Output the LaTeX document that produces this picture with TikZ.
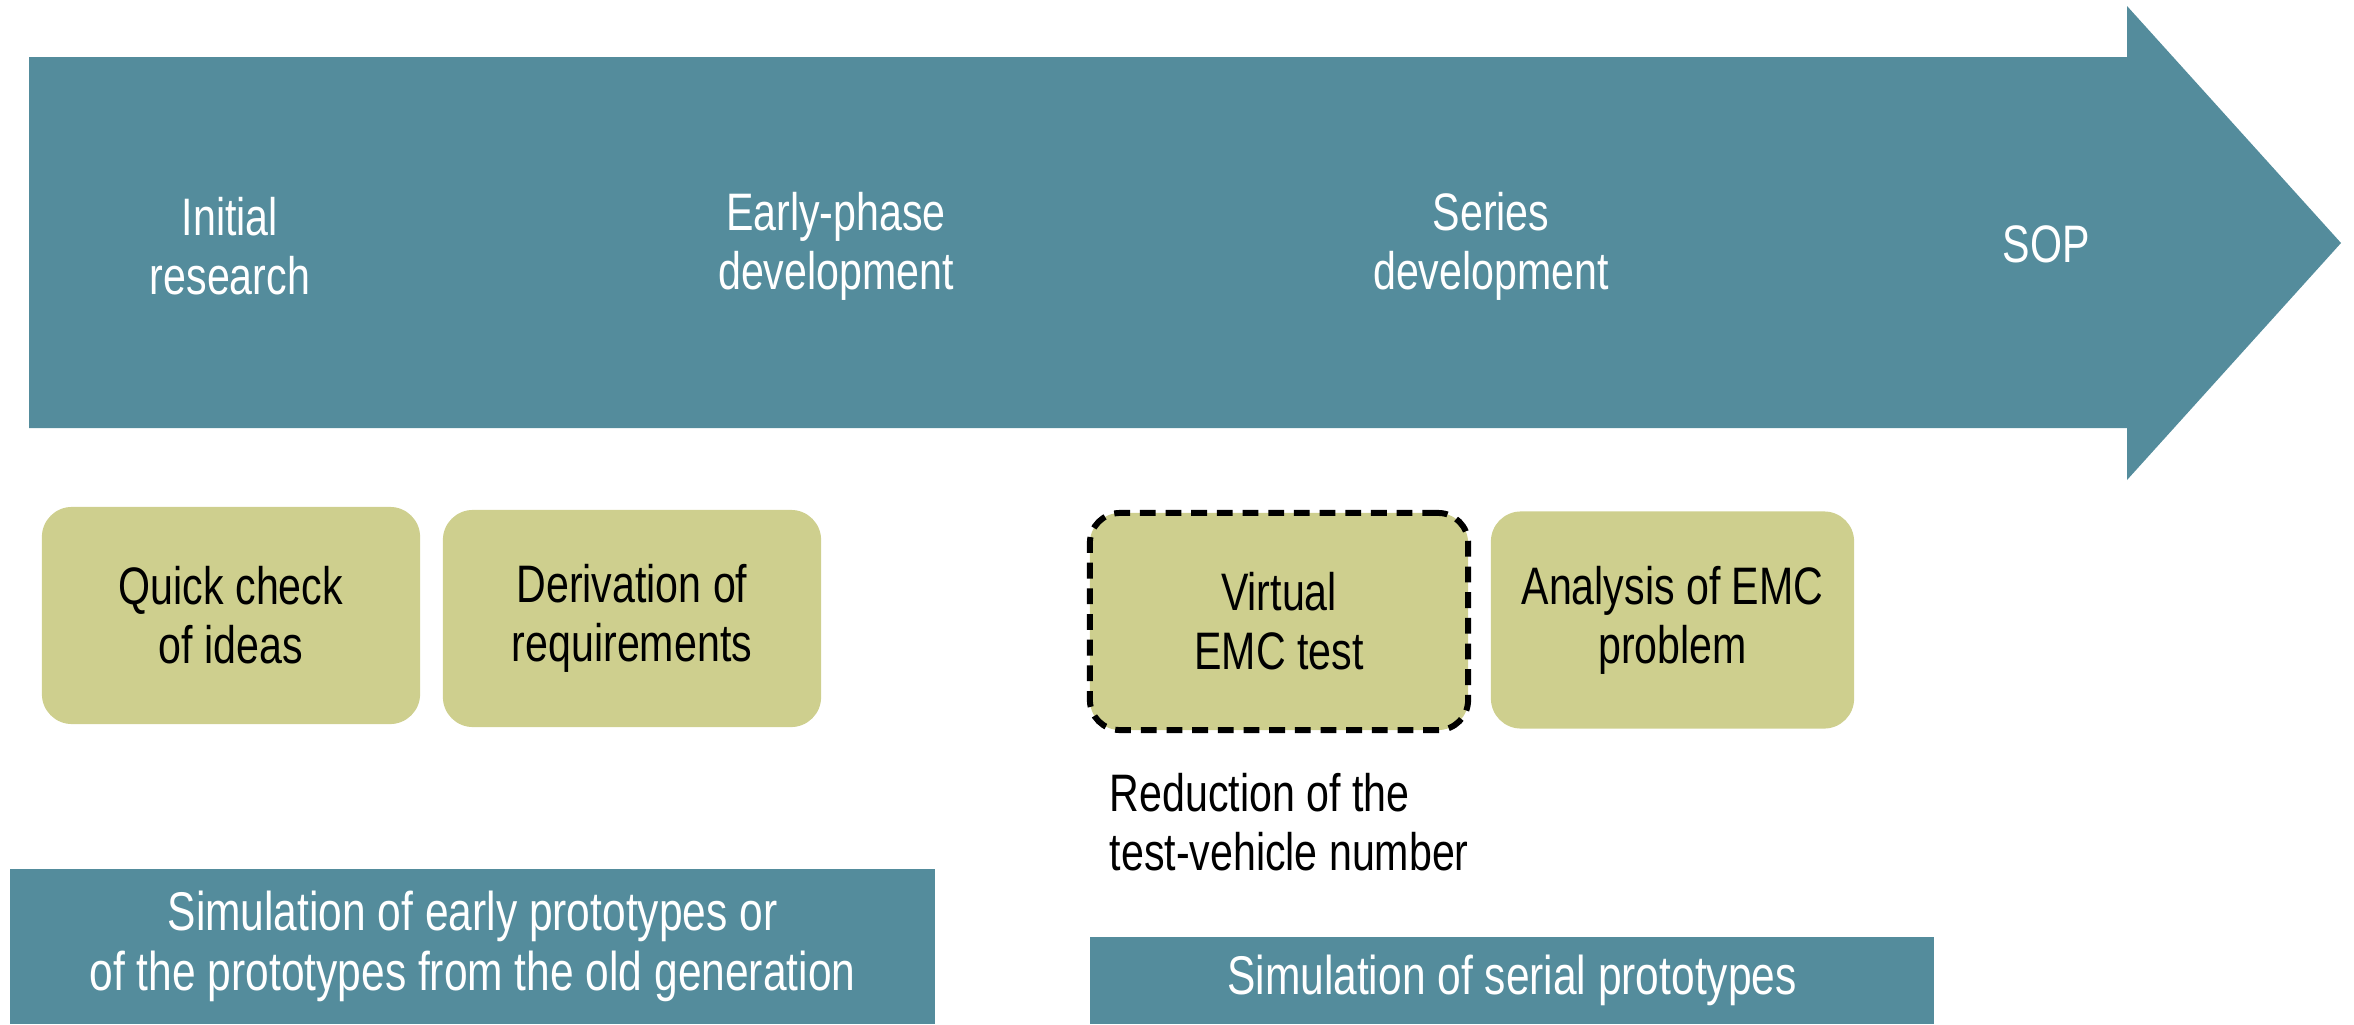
\documentclass[tikz,border=0pt]{standalone}
\usepackage{fontspec}
\setmainfont{Liberation Sans}[FakeStretch=0.78]
\begin{document}
\begin{tikzpicture}[x=0.01cm, y=-0.01cm]
\definecolor{barteal}{RGB}{84,140,156}
\definecolor{boxolive}{RGB}{206,207,142}
\tikzset{
  lbl/.style={align=center, inner sep=0pt, font=\fontsize{15pt}{16.8pt}\selectfont},
  phase/.style={lbl, text=white},
  task/.style={lbl, fill=boxolive, rounded corners=0.3cm,
    minimum width=3.78cm, minimum height=2.17cm},
  dashedtask/.style={task, draw=black, line width=1.7pt,
    dash pattern=on 4.5pt off 2.8pt},
  simbar/.style={lbl, fill=barteal, text=white,
    font=\fontsize{15.5pt}{17pt}\selectfont},
}
\useasboundingbox (0,0) rectangle (2354,1024);

% process arrow
\path[fill=barteal] (29,57) -- (2127,57) -- (2127,6) -- (2341,243)
  -- (2127,480) -- (2127,428) -- (29,428) -- cycle;

% phases
\node[phase] (init)   at (230,246)  {Initial\\research};
\node[phase] (early)  at (836,246)  {Early-phase\\development};
\node[phase] (series) at (1491,246) {Series\\development};
\node[phase] (sop)    at (2046,244) {SOP};

% tasks
\node[task] (quick) at (231,615.5) {Quick check\\of ideas};
\node[task] (deriv) at (632,618.5) {Derivation of\\requirements};
\node[dashedtask] (virt) at (1279,621.5) {Virtual\\EMC test};
\node[task, minimum width=3.63cm] (anal) at (1672.5,620) {Analysis of EMC\\problem};

\node[lbl, anchor=west, align=left] (reduc) at (1109,822) {Reduction of the\\test-vehicle number};

% simulation bars
\node[simbar, minimum width=9.25cm, minimum height=1.55cm] (simearly) at (472.5,946.5)
  {Simulation of early prototypes or\\of the prototypes from the old generation};
\node[simbar, minimum width=8.44cm, minimum height=0.87cm] (simserial) at (1512,980.5)
  {Simulation of serial prototypes};
\end{tikzpicture}
\end{document}
